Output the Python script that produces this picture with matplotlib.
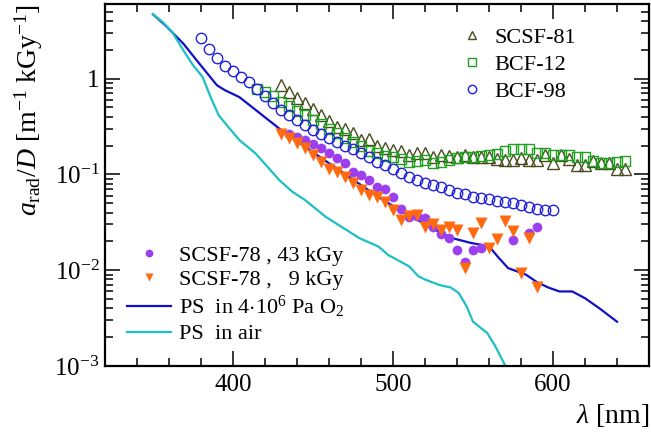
import matplotlib
matplotlib.use("Agg")
import matplotlib.pyplot as plt
from matplotlib.ticker import MultipleLocator, LogLocator, NullFormatter

plt.rcParams["font.family"] = ["Liberation Serif", "DejaVu Serif"]
plt.rcParams["mathtext.fontset"] = "custom"
plt.rcParams["mathtext.rm"] = "Liberation Serif"
plt.rcParams["mathtext.it"] = "Liberation Serif:italic"
plt.rcParams["mathtext.bf"] = "Liberation Serif:bold"

# --- fibre samples, radiation induced absorption per dose ---
wl_scsf81 = [430, 435, 440, 445, 450, 455, 460, 465, 470, 475,
             480, 485, 490, 495, 500, 505, 510, 515, 520, 525,
             530, 535, 540, 545, 550, 555, 560, 565, 570, 575,
             580, 585, 590, 595, 600, 605, 610, 615, 620, 625,
             630, 635, 640, 645]
a_scsf81 = [0.85, 0.725, 0.63, 0.55, 0.485, 0.42, 0.36, 0.313, 0.30, 0.27,
            0.228, 0.232, 0.197, 0.19, 0.179, 0.176, 0.159, 0.168, 0.168, 0.153,
            0.159, 0.155, 0.150, 0.159, 0.153, 0.150, 0.150, 0.143, 0.141, 0.141,
            0.147, 0.141, 0.141, 0.159, 0.130, 0.159, 0.143, 0.125, 0.125, 0.137,
            0.130, 0.130, 0.114, 0.114]

wl_bcf12 = [415, 420, 425, 430, 435, 440, 445, 450, 455, 460,
            465, 470, 475, 480, 485, 490, 495, 500, 505, 510,
            515, 520, 525, 530, 535, 540, 545, 550, 555, 560,
            565, 570, 575, 580, 585, 590, 595, 600, 605, 610,
            615, 620, 625, 630, 635, 640, 645]
a_bcf12 = [0.787, 0.725, 0.654, 0.57, 0.515, 0.46, 0.415, 0.368, 0.332, 0.295,
           0.268, 0.237, 0.218, 0.197, 0.175, 0.166, 0.157, 0.150, 0.143, 0.135,
           0.138, 0.140, 0.133, 0.136, 0.140, 0.148, 0.153, 0.150, 0.155, 0.158,
           0.165, 0.175, 0.182, 0.183, 0.183, 0.169, 0.169, 0.159, 0.159, 0.159,
           0.153, 0.153, 0.139, 0.133, 0.130, 0.135, 0.139]

wl_bcf98 = [380, 385, 390, 395, 400, 405, 410, 415, 420, 425,
            430, 435, 440, 445, 450, 455, 460, 465, 470, 475,
            480, 485, 490, 495, 500, 505, 510, 515, 520, 525,
            530, 535, 540, 545, 550, 555, 560, 565, 570, 575,
            580, 585, 590, 595, 600]
a_bcf98 = [2.67, 2.03, 1.62, 1.35, 1.19, 1.04, 0.91, 0.77, 0.65, 0.55,
           0.47, 0.415, 0.368, 0.326, 0.29, 0.263, 0.237, 0.218, 0.20, 0.182,
           0.166, 0.15, 0.135, 0.125, 0.115, 0.104, 0.094, 0.087, 0.082, 0.077,
           0.073, 0.0687, 0.0645, 0.062, 0.058, 0.056, 0.055, 0.053, 0.052, 0.050,
           0.048, 0.046, 0.044, 0.042, 0.042]

wl_scsf78_43 = [435, 440, 445, 450, 455, 460, 465, 470, 475, 480,
                485, 490, 495, 500, 505, 510, 515, 520, 525, 530,
                535, 540, 545, 550, 555, 575, 585, 590]
a_scsf78_43 = [0.267, 0.246, 0.228, 0.207, 0.187, 0.166, 0.147, 0.130, 0.107, 0.098,
               0.087, 0.074, 0.070, 0.058, 0.044, 0.0358, 0.037, 0.0348, 0.028, 0.0238,
               0.0216, 0.0163, 0.0123, 0.0163, 0.0170, 0.0207, 0.0245, 0.0285]

wl_scsf78_9 = [430, 435, 440, 445, 450, 455, 460, 465, 470, 475,
               480, 485, 490, 495, 500, 505, 510, 515, 520, 525,
               530, 535, 540, 545, 550, 555, 560, 565, 570, 575,
               580, 585, 590]
a_scsf78_9 = [0.267, 0.237, 0.214, 0.187, 0.159, 0.135, 0.113, 0.107, 0.093, 0.081,
              0.069, 0.061, 0.058, 0.051, 0.042, 0.0335, 0.0367, 0.0377, 0.0285, 0.0304,
              0.0264, 0.028, 0.0264, 0.0105, 0.0245, 0.031, 0.0170, 0.021, 0.033, 0.0255,
              0.0094, 0.0216, 0.0067]

# --- polystyrene reference curves ---
wl_ps_o2 = [350, 358, 369, 379, 390, 395, 404, 429, 454, 491,
            504, 512, 524, 537, 549, 556, 561, 566, 572, 583,
            590, 597, 604, 612, 620, 629, 640]
a_ps_o2 = [4.68, 3.55, 2.31, 1.43, 0.85, 0.755, 0.64, 0.30, 0.153, 0.058,
           0.0425, 0.036, 0.0276, 0.0216, 0.0192, 0.0183, 0.017, 0.0135, 0.0105, 0.0090,
           0.0075, 0.0066, 0.0060, 0.0060, 0.0051, 0.0040, 0.0029]

wl_ps_air = [350, 356, 362, 369, 375, 381, 386, 391, 397, 404,
             414, 429, 437, 445, 458, 479, 491, 497, 510, 516,
             520, 529, 536, 541, 546, 550, 559, 564, 570]
a_ps_air = [4.68, 3.89, 3.06, 1.97, 1.38, 1.04, 0.64, 0.415, 0.313, 0.228,
            0.166, 0.087, 0.066, 0.054, 0.036, 0.0216, 0.0176, 0.0144, 0.011, 0.0086,
            0.0080, 0.0070, 0.0066, 0.0058, 0.0042, 0.0029, 0.0022, 0.0016, 0.00102]

fig = plt.figure(figsize=(6.51, 4.34), dpi=100)
ax = fig.add_axes([105 / 651, 1 - 366 / 434, 544 / 651, 362 / 434])

ax.set_yscale("log")
ax.set_xlim(320, 660)
ax.set_ylim(1e-3, 6)

# curves
l_o2, = ax.plot(wl_ps_o2, a_ps_o2, color="#1010c8", lw=1.6,
                label=r"PS  in 4$\cdot$10$^{6}$ Pa O$_{2}$")
l_air, = ax.plot(wl_ps_air, a_ps_air, color="#1cc0c4", lw=1.6, label="PS  in air")

# measured points
p81, = ax.plot(wl_scsf81, a_scsf81, ls="none", marker="^", ms=8, mfc="none",
               mec="#4a4a20", mew=1.0, label="SCSF-81")
p12, = ax.plot(wl_bcf12, a_bcf12, ls="none", marker="s", ms=7.5, mfc="none",
               mec="#20a020", mew=1.0, label="BCF-12")
p98, = ax.plot(wl_bcf98, a_bcf98, ls="none", marker="o", ms=7.5, mfc="none",
               mec="#2020e0", mew=1.0, label="BCF-98")
p43, = ax.plot(wl_scsf78_43, a_scsf78_43, ls="none", marker="o", ms=7, color="#9b3ff0",
               mec="none", label="SCSF-78 , 43 kGy")
p9, = ax.plot(wl_scsf78_9, a_scsf78_9, ls="none", marker="v", ms=8, color="#ff6a10",
              mec="none", label="SCSF-78 ,   9 kGy")

# axes styling
for s in ax.spines.values():
    s.set_linewidth(1.6)
ax.xaxis.set_major_locator(MultipleLocator(100))
ax.xaxis.set_minor_locator(MultipleLocator(20))
ax.set_yticks([1e-3, 1e-2, 1e-1, 1], labels=[r"10$^{-3}$", r"10$^{-2}$", r"10$^{-1}$", "1"])
ax.yaxis.set_minor_locator(LogLocator(base=10, subs=range(2, 10)))
ax.yaxis.set_minor_formatter(NullFormatter())
ax.tick_params(which="both", direction="in", top=True, right=True, width=1.1, labelsize=18)
ax.tick_params(which="major", length=11)
ax.tick_params(which="minor", length=6)
ax.tick_params(axis="x", pad=6)
ax.tick_params(axis="y", pad=4)

ax.set_xlabel(r"$\lambda$ [nm]", fontsize=20, loc="right")
ax.xaxis.set_label_coords(1.0, -0.1)
ax.set_ylabel(r"$a_{\mathrm{rad}}/D$ [m$^{-1}$ kGy$^{-1}$]", fontsize=20, loc="top")
ax.yaxis.set_label_coords(-0.11, 1.0)

leg1 = ax.legend(handles=[p81, p12, p98], loc="upper left", bbox_to_anchor=(0.655, 0.936),
                 frameon=False, fontsize=16, markerscale=0.8, handlelength=1.0,
                 handletextpad=0.5, labelspacing=0.3, borderpad=0, borderaxespad=0)
ax.add_artist(leg1)
ax.legend(handles=[p43, p9, l_o2, l_air], loc="upper left", bbox_to_anchor=(0.04, 0.334),
          frameon=False, fontsize=16, markerscale=0.8, handlelength=2.0,
          handletextpad=0.35, labelspacing=0.17, borderpad=0, borderaxespad=0)

fig.savefig("out.png", dpi=100)
